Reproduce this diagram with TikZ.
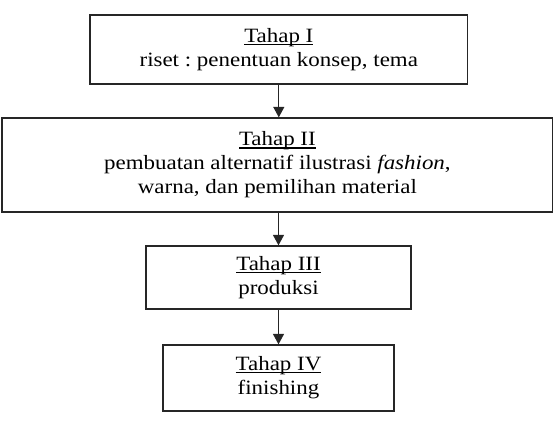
\documentclass[tikz,border=0pt]{standalone}
\usepackage{fontspec}
\setmainfont[FakeStretch=1.13]{Liberation Serif}
\usetikzlibrary{arrows.meta}
\frenchspacing
\newcommand\myul[1]{\setbox0\hbox{#1}\rlap{\rule[-0.13em]{\wd0}{0.055em}}\box0}
\tikzset{
  stagebox/.style={draw=black!85, line width=1.3pt, rectangle, inner sep=0pt, align=center,
    font=\fontsize{20.3}{24}\selectfont},
  flow/.style={draw=black!85, line width=1.3pt, -{Triangle[length=10.5pt,width=11pt]}}
}
\begin{document}
\begin{tikzpicture}[x=1pt,y=-1pt]
\useasboundingbox (0,0) rectangle (559,428);
\node[stagebox, minimum width=377.7pt, minimum height=69pt] (b1) at (278.8,49.5)
  {\myul{Tahap I}\\riset : penentuan konsep, tema};
\node[stagebox, minimum width=550.7pt, minimum height=94pt] (b2) at (277.4,165)
  {\myul{Tahap II}\\pembuatan alternatif ilustrasi \textit{fashion},\\warna, dan pemilihan material};
\node[stagebox, minimum width=265pt, minimum height=63pt] (b3) at (278.5,277.5)
  {\myul{Tahap III}\\produksi};
\node[stagebox, minimum width=231pt, minimum height=66pt] (b4) at (278.5,378)
  {\myul{Tahap IV}\\finishing};
\draw[flow] (b1.south) -- (b1.south |- b2.north);
\draw[flow] (b2.south -| b3.north) -- (b3.north);
\draw[flow] (b3.south) -- (b4.north);
\end{tikzpicture}
\end{document}
